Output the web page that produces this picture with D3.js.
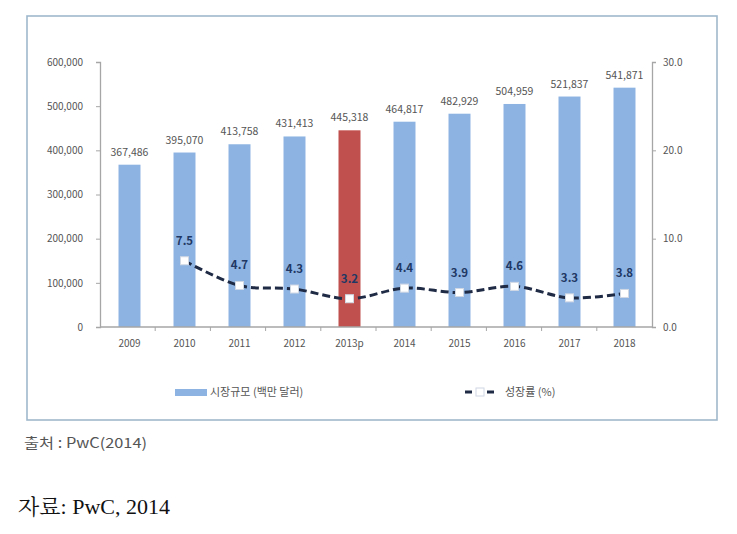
<!DOCTYPE html>
<html><head><meta charset="utf-8">
<script src="https://cdn.jsdelivr.net/npm/d3@7"></script>
<style>
html,body{margin:0;padding:0;background:#fff;}
svg{display:block;}
</style>
</head><body>
<svg id="chart" width="737" height="534"></svg>
<script>
const categories = ["2009","2010","2011","2012","2013p","2014","2015","2016","2017","2018"];
const marketSize = [367486,395070,413758,431413,445318,464817,482929,504959,521837,541871];
const growthRate = [null,7.5,4.7,4.3,3.2,4.4,3.9,4.6,3.3,3.8];
const leftTicks = [0,100000,200000,300000,400000,500000,600000];
const rightTicks = [0,10,20,30];
const rightTickLabels = ["0.0","10.0","20.0","30.0"];
const highlight = "2013p";
const legendLabels = ["시장규모 (백만 달러)","성장률 (%)"];
const sourceInner = "출처 : PwC(2014)";
const sourceOuter = "자료: PwC, 2014";

const svg = d3.select("#chart");
const font = "'Noto Sans CJK KR','Liberation Sans',sans-serif";

// frame
svg.append("rect").attr("x",27).attr("y",16).attr("width",690).attr("height",404)
  .attr("fill","#fff").attr("stroke","#9fb8cc").attr("stroke-width",1.6);

const x = d3.scaleBand().domain(categories).range([102,652]).paddingInner(0.6).paddingOuter(0.3);
const yL = d3.scaleLinear().domain([0,600000]).range([327,62]);
const yR = d3.scaleLinear().domain([0,30]).range([327,62]);

// bars
svg.append("g").selectAll("rect").data(categories).join("rect")
  .attr("x",d=>x(d)).attr("width",x.bandwidth())
  .attr("y",(d,i)=>yL(marketSize[i])).attr("height",(d,i)=>yL(0)-yL(marketSize[i]))
  .attr("fill",d=>d===highlight?"#c0504d":"#8db3e2");

// axes
const axisColor = "#a6a6a6";
const gL = svg.append("g").attr("transform","translate(100,0)")
  .call(d3.axisLeft(yL).tickValues(leftTicks).tickFormat(d3.format(",")).tickSize(4).tickPadding(13));
const gR = svg.append("g").attr("transform","translate(652,0)")
  .call(d3.axisRight(yR).tickValues(rightTicks).tickFormat((d,i)=>rightTickLabels[i]).tickSize(4).tickPadding(7));
const xb = d3.scaleBand().domain(categories).range([100,652]);
const gX = svg.append("g").attr("transform","translate(0,327)")
  .call(d3.axisBottom(x).tickSize(0).tickPadding(13));
// category separator ticks
svg.append("g").selectAll("line").data(categories.slice(1)).join("line")
  .attr("x1",d=>xb(d)).attr("x2",d=>xb(d)).attr("y1",327).attr("y2",331)
  .attr("stroke",axisColor);
[gL,gR,gX].forEach(g=>{
  g.selectAll("path.domain").attr("stroke",axisColor).attr("stroke-width",1.3);
  g.selectAll(".tick line").attr("stroke",axisColor);
  g.selectAll("text").attr("fill","#555").style("font-family",font).style("font-size","10px");
});
gX.select("path.domain").attr("d","M100,0H652");

// bar value labels
svg.append("g").selectAll("text").data(categories).join("text")
  .attr("x",d=>x(d)+x.bandwidth()/2).attr("y",(d,i)=>yL(marketSize[i])-9)
  .attr("text-anchor","middle").attr("fill","#555")
  .style("font-family",font).style("font-size","10.5px")
  .text((d,i)=>d3.format(",")(marketSize[i]));

// growth line
const pts = categories.map((c,i)=>({c,v:growthRate[i]})).filter(d=>d.v!==null);
const line = d3.line().x(d=>x(d.c)+x.bandwidth()/2).y(d=>yR(d.v)).curve(d3.curveCatmullRom.alpha(0.5));
svg.append("path").datum(pts).attr("d",line).attr("fill","none")
  .attr("stroke","#1f2a44").attr("stroke-width",3).attr("stroke-dasharray","8,4");
svg.append("g").selectAll("rect").data(pts).join("rect")
  .attr("x",d=>x(d.c)+x.bandwidth()/2-4).attr("y",d=>yR(d.v)-4)
  .attr("width",8).attr("height",8).attr("fill","#fff").attr("stroke","#d0d8e4").attr("stroke-width",1);
svg.append("g").selectAll("text").data(pts).join("text")
  .attr("x",d=>x(d.c)+x.bandwidth()/2).attr("y",d=>yR(d.v)-16)
  .attr("text-anchor","middle").attr("fill","#1f3864").attr("font-weight","bold")
  .style("font-family",font).style("font-size","11.5px").text(d=>d.v.toFixed(1));

// legend
svg.append("rect").attr("x",175).attr("y",389).attr("width",32).attr("height",7).attr("fill","#8db3e2");
svg.append("text").attr("x",210).attr("y",396).attr("fill","#555")
  .style("font-family",font).style("font-size","11px").text(legendLabels[0]);
svg.append("line").attr("x1",465).attr("x2",494).attr("y1",392).attr("y2",392)
  .attr("stroke","#1f2a44").attr("stroke-width",3).attr("stroke-dasharray","7,4");
svg.append("rect").attr("x",476).attr("y",388).attr("width",8).attr("height",8)
  .attr("fill","#fff").attr("stroke","#d0d8e4");
svg.append("text").attr("x",505).attr("y",396).attr("fill","#555")
  .style("font-family",font).style("font-size","11px").text(legendLabels[1]);

// sources
svg.append("text").attr("x",24).attr("y",448).attr("fill","#555")
  .style("font-family",font).style("font-size","14px")
  .attr("textLength",123).attr("lengthAdjust","spacingAndGlyphs").text(sourceInner);
svg.append("text").attr("x",18).attr("y",514).attr("fill","#111")
  .style("font-family","'Liberation Serif','Noto Serif CJK KR','Noto Sans CJK KR',serif").style("font-size","21px")
  .attr("textLength",152).attr("lengthAdjust","spacingAndGlyphs").text(sourceOuter);
</script>
</body></html>
